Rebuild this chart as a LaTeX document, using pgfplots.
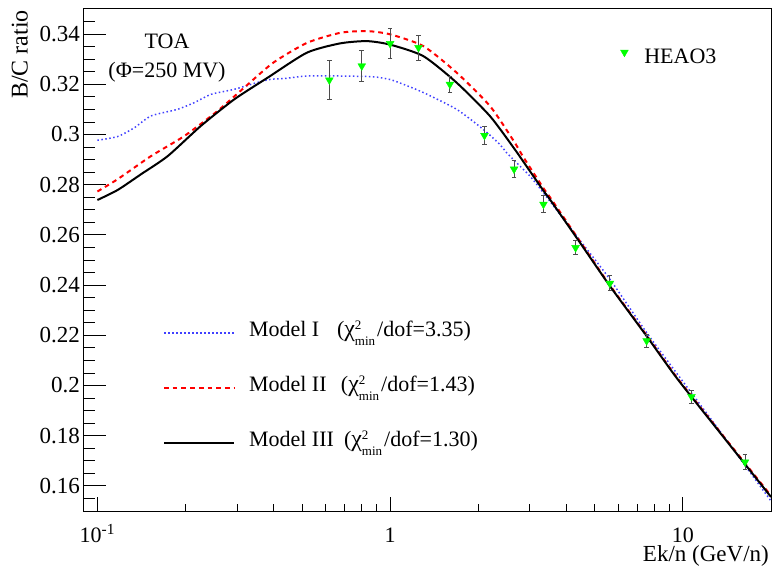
\documentclass[border=0pt]{standalone}
\usepackage{pgfplots}
\pgfplotsset{compat=1.18}
\usepackage{fontspec}
\setmainfont{Liberation Serif}
\definecolor{mblue}{rgb}{0.25,0.25,1}
\definecolor{mred}{rgb}{1,0,0}
\definecolor{mgreen}{rgb}{0,1,0}
\newcommand{\fs}[1]{\fontsize{#1}{#1}\selectfont}
\newcommand{\chisq}{{\fs{24bp}χ}\makebox[0pt][l]{\raisebox{7bp}{\fs{13bp}2}}\raisebox{-9bp}{\fs{13bp}min}\hspace{2bp}}
\begin{document}
\begin{tikzpicture}
\useasboundingbox (0,0) rectangle (773bp,566bp);
\begin{axis}[
  at={(84bp,55bp)}, anchor=south west,
  width=687bp, height=502bp, scale only axis,
  xmode=log, xmin=0.09, xmax=20, ymin=0.15, ymax=0.35,
  tick align=inside,
  axis line style={line width=1bp},
  every tick/.style={black, line width=0.8bp},
  clip=false,
  xtick={0.1,1,10}, xticklabels={},
  minor xtick={0.2,0.3,0.4,0.5,0.6,0.7,0.8,0.9,2,3,4,5,6,7,8,9},
  xtick pos=bottom, ytick=\empty,
  major tick length=14bp, minor tick length=7bp,
  legend cell align=left,
  legend style={at={(rel axis cs:0.115,0.3884)}, anchor=north west, draw=none, fill=none,
    inner sep=0pt, outer sep=0pt, row sep=25bp, column sep=14bp, font=\fs{22bp},
    nodes={inner sep=0pt, text height=20bp, text depth=10bp}},
  legend image code/.code={\draw[#1] (0bp,-2bp) -- (70bp,-2bp);},
]
\addplot[mblue, line width=1.5bp, dash pattern=on 1.5bp off 2.5bp, smooth, tension=0.4] coordinates {
(0.1,0.2977)(0.1173,0.2992)(0.1338,0.3027)(0.1525,0.3074)(0.1875,0.3100)(0.2143,0.3127)
(0.2445,0.3160)(0.2935,0.3180)(0.3516,0.3207)(0.3916,0.3220)(0.4347,0.3223)(0.5197,0.3233)
(0.675,0.3233)(0.875,0.3230)(1.0,0.3219)(1.082,0.3205)(1.2994,0.3167)(1.689,0.3100)
(2.082,0.3020)(2.372,0.2960)(2.502,0.2927)(2.776,0.2874)(3.005,0.2834)(3.337,0.2768)
(4.338,0.2595)(5.634,0.2423)(7.517,0.2211)(9.78,0.2031)(13,0.1838)(20,0.1540)};
\addlegendentry{\makebox[88bp][l]{Model I}(\chisq/dof=3.35)}
\addplot[mred, line width=2bp, dash pattern=on 4.7bp off 4bp, smooth, tension=0.4] coordinates {
(0.1,0.2773)(0.1173,0.2822)(0.1525,0.2914)(0.1982,0.2994)(0.2574,0.3094)(0.3176,0.3187)
(0.3988,0.3286)(0.5197,0.3365)(0.675,0.3405)(0.8327,0.3412)(1.0,0.3399)(1.2994,0.3352)
(1.689,0.3246)(2.194,0.3113)(2.65,0.2972)(2.851,0.2910)(3.34,0.2786)(3.516,0.2750)
(4.453,0.2574)(5.634,0.2399)(7.517,0.2200)(9.51,0.2034)(13,0.1834)(20,0.1561)};
\addlegendentry{\makebox[92bp][l]{Model II}(\chisq/dof=1.43)}
\addplot[black, line width=2bp, smooth, tension=0.4] coordinates {
(0.1,0.2739)(0.1173,0.2779)(0.1411,0.2842)(0.1739,0.2914)(0.2256,0.3034)(0.2935,0.3140)
(0.3812,0.3226)(0.5197,0.3326)(0.675,0.3363)(0.8327,0.3372)(1.0,0.3358)(1.2994,0.3312)
(1.689,0.3206)(2.194,0.3073)(2.65,0.2945)(2.851,0.2892)(3.34,0.2776)(3.516,0.2741)
(4.453,0.2569)(5.634,0.2396)(7.517,0.2197)(9.51,0.2031)(13,0.1831)(20,0.1556)};
\addlegendentry{\makebox[95bp][l]{Model III}(\chisq/dof=1.30)}
\node[anchor=base, inner sep=0pt, font=\fs{22bp}, yshift=-31bp] at (axis cs:0.1,0.15) {10\textsuperscript{-1}};
\node[anchor=base, inner sep=0pt, font=\fs{22bp}, yshift=-31bp] at (axis cs:1,0.15) {1};
\node[anchor=base, inner sep=0pt, font=\fs{22bp}, yshift=-31bp] at (axis cs:10,0.15) {10};
\end{axis}
\begin{axis}[
  at={(84bp,55bp)}, anchor=south west,
  width=687bp, height=502bp, scale only axis,
  xmode=log, xmin=0.09, xmax=20, ymin=0.15, ymax=0.35,
  tick align=inside,
  axis line style={line width=1bp},
  every tick/.style={black, line width=0.8bp},
  clip=false,
  hide x axis,
  ytick={0.16,0.18,0.2,0.22,0.24,0.26,0.28,0.3,0.32,0.34},
  yticklabels={0.16,0.18,0.2,0.22,0.24,0.26,0.28,0.3,0.32,0.34},
  minor ytick={0.155,0.165,0.17,0.175,0.185,0.19,0.195,0.205,0.21,0.215,0.225,0.23,0.235,0.245,0.25,0.255,0.265,0.27,0.275,0.285,0.29,0.295,0.305,0.31,0.315,0.325,0.33,0.335,0.345},
  ytick pos=left, major tick length=22bp, minor tick length=11bp,
  yticklabel style={font=\fs{23bp}, inner sep=0pt, xshift=-4bp},
  legend style={at={(rel axis cs:0.781,0.9317)}, anchor=north west, draw=none, fill=none,
    inner sep=0pt, outer sep=0pt, column sep=16bp, font=\fs{22bp},
    nodes={inner sep=0pt, text height=20bp, text depth=5bp}},
  legend image code/.code={\draw[#1] plot coordinates {(4.5bp,3.5bp)};},
]
\addplot[only marks, mark=triangle*, mark size=4.5bp,
  mark options={rotate=180, fill=mgreen, draw=mgreen},
  error bars/.cd, y dir=both, y explicit,
  error bar style={black!70, line width=1bp},
  error mark options={black!70, line width=1bp, mark size=2.3bp, rotate=90}]
table[x=x, y=y, y error=e] {
x y e
0.62 0.3217 0.0076
0.80 0.3273 0.0060
1.00 0.3362 0.0060
1.25 0.3346 0.0050
1.60 0.3200 0.0033
2.10 0.2996 0.0034
2.65 0.2862 0.0035
3.34 0.2722 0.0033
4.30 0.2549 0.0029
5.63 0.2407 0.0030
7.52 0.2178 0.0027
10.7 0.1956 0.0026
16.3 0.1695 0.0031
};
\addlegendentry{HEAO3}
\end{axis}
\node[rotate=90, anchor=base east, inner sep=0pt, font=\fs{24bp}] at (27.5bp,556bp) {B/C ratio};
\node[anchor=base east, inner sep=0pt, font=\fs{23bp}] at (769bp,5bp) {Ek/n (GeV/n)};
\node[anchor=base, inner sep=0pt, font=\fs{22bp}] at (167bp,517.7bp) {TOA};
\node[anchor=base, inner sep=0pt, font=\fs{22bp}] at (167bp,488.7bp) {(Φ=250 MV)};
\end{tikzpicture}
\end{document}
